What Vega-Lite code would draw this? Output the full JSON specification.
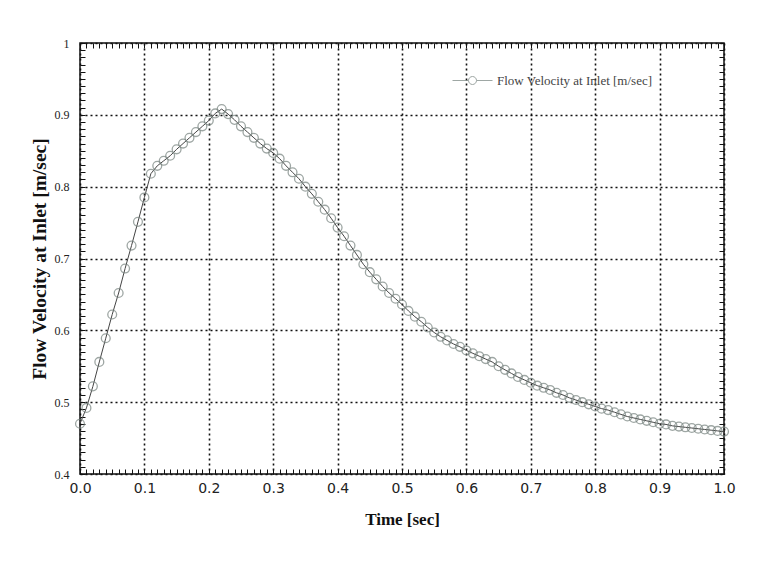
{
  "$schema": "https://vega.github.io/schema/vega-lite/v6.json",
  "width": 644,
  "height": 431,
  "autosize": {"type": "none"},
  "padding": {"left": 80, "top": 43, "right": 58, "bottom": 110},
  "background": "white",
  "config": {"view": {"stroke": "#111", "strokeWidth": 1.5}},
  "data": {"values": [
    {"t":0.00,"v":0.470},{"t":0.01,"v":0.492},{"t":0.02,"v":0.522},{"t":0.03,"v":0.556},{"t":0.04,"v":0.589},
    {"t":0.05,"v":0.622},{"t":0.06,"v":0.652},{"t":0.07,"v":0.686},{"t":0.08,"v":0.718},{"t":0.09,"v":0.751},
    {"t":0.10,"v":0.785},{"t":0.11,"v":0.818},{"t":0.12,"v":0.829},{"t":0.13,"v":0.836},{"t":0.14,"v":0.843},
    {"t":0.15,"v":0.852},{"t":0.16,"v":0.860},{"t":0.17,"v":0.868},{"t":0.18,"v":0.876},{"t":0.19,"v":0.884},
    {"t":0.20,"v":0.892},{"t":0.21,"v":0.902},{"t":0.22,"v":0.908},{"t":0.23,"v":0.901},{"t":0.24,"v":0.893},
    {"t":0.25,"v":0.884},{"t":0.26,"v":0.876},{"t":0.27,"v":0.868},{"t":0.28,"v":0.860},{"t":0.29,"v":0.853},
    {"t":0.30,"v":0.847},{"t":0.31,"v":0.839},{"t":0.32,"v":0.829},{"t":0.33,"v":0.820},{"t":0.34,"v":0.811},
    {"t":0.35,"v":0.800},{"t":0.36,"v":0.790},{"t":0.37,"v":0.779},{"t":0.38,"v":0.768},{"t":0.39,"v":0.756},
    {"t":0.40,"v":0.743},{"t":0.41,"v":0.731},{"t":0.42,"v":0.718},{"t":0.43,"v":0.705},{"t":0.44,"v":0.692},
    {"t":0.45,"v":0.681},{"t":0.46,"v":0.671},{"t":0.47,"v":0.661},{"t":0.48,"v":0.652},{"t":0.49,"v":0.644},
    {"t":0.50,"v":0.636},{"t":0.51,"v":0.627},{"t":0.52,"v":0.619},{"t":0.53,"v":0.612},{"t":0.54,"v":0.604},
    {"t":0.55,"v":0.597},{"t":0.56,"v":0.591},{"t":0.57,"v":0.586},{"t":0.58,"v":0.581},{"t":0.59,"v":0.577},
    {"t":0.60,"v":0.572},{"t":0.61,"v":0.568},{"t":0.62,"v":0.564},{"t":0.63,"v":0.560},{"t":0.64,"v":0.556},
    {"t":0.65,"v":0.550},{"t":0.66,"v":0.545},{"t":0.67,"v":0.540},{"t":0.68,"v":0.535},{"t":0.69,"v":0.531},
    {"t":0.70,"v":0.527},{"t":0.71,"v":0.523},{"t":0.72,"v":0.520},{"t":0.73,"v":0.517},{"t":0.74,"v":0.513},
    {"t":0.75,"v":0.510},{"t":0.76,"v":0.506},{"t":0.77,"v":0.503},{"t":0.78,"v":0.500},{"t":0.79,"v":0.497},
    {"t":0.80,"v":0.494},{"t":0.81,"v":0.491},{"t":0.82,"v":0.489},{"t":0.83,"v":0.486},{"t":0.84,"v":0.483},
    {"t":0.85,"v":0.480},{"t":0.86,"v":0.478},{"t":0.87,"v":0.476},{"t":0.88,"v":0.474},{"t":0.89,"v":0.472},
    {"t":0.90,"v":0.470},{"t":0.91,"v":0.469},{"t":0.92,"v":0.467},{"t":0.93,"v":0.466},{"t":0.94,"v":0.465},
    {"t":0.95,"v":0.464},{"t":0.96,"v":0.463},{"t":0.97,"v":0.462},{"t":0.98,"v":0.461},{"t":0.99,"v":0.460},
    {"t":1.00,"v":0.459}
  ]},
  "layer": [
    {
      "mark": {"type": "line", "color": "#444", "strokeWidth": 1},
      "encoding": {
        "x": {
          "field": "t", "type": "quantitative",
          "scale": {"domain": [0, 1], "nice": false, "zero": false},
          "axis": {
            "orient": "bottom",
            "values": [0,0.01,0.02,0.03,0.04,0.05,0.06,0.07,0.08,0.09,0.1,0.11,0.12,0.13,0.14,0.15,0.16,0.17,0.18,0.19,0.2,0.21,0.22,0.23,0.24,0.25,0.26,0.27,0.28,0.29,0.3,0.31,0.32,0.33,0.34,0.35,0.36,0.37,0.38,0.39,0.4,0.41,0.42,0.43,0.44,0.45,0.46,0.47,0.48,0.49,0.5,0.51,0.52,0.53,0.54,0.55,0.56,0.57,0.58,0.59,0.6,0.61,0.62,0.63,0.64,0.65,0.66,0.67,0.68,0.69,0.7,0.71,0.72,0.73,0.74,0.75,0.76,0.77,0.78,0.79,0.8,0.81,0.82,0.83,0.84,0.85,0.86,0.87,0.88,0.89,0.9,0.91,0.92,0.93,0.94,0.95,0.96,0.97,0.98,0.99,1],
            "labelExpr": "abs(datum.value*10 - round(datum.value*10)) < 0.001 ? format(datum.value, '.1f') : ''",
            "labelOverlap": false,
            "labelFlush": false,
            "labelFont": "DejaVu Sans", "labelFontSize": 14, "labelColor": "#222",
            "labelPadding": 12,
            "tickSize": -5, "tickColor": "#111", "tickWidth": 1,
            "domain": false,
            "grid": true,
            "gridColor": "#111", "gridWidth": 1.6, "gridDash": [2, 3],
            "gridOpacity": {"condition": {"test": "abs(datum.value*10 - round(datum.value*10)) < 0.001", "value": 1}, "value": 0},
            "title": "Time [sec]",
            "titleFont": "Liberation Serif", "titleFontSize": 17, "titleFontWeight": "bold", "titleColor": "#111",
            "titlePadding": 16
          }
        },
        "y": {
          "field": "v", "type": "quantitative",
          "scale": {"domain": [0.4, 1], "nice": false, "zero": false},
          "axis": {
            "orient": "left",
            "values": [0.4,0.41,0.42,0.43,0.44,0.45,0.46,0.47,0.48,0.49,0.5,0.51,0.52,0.53,0.54,0.55,0.56,0.57,0.58,0.59,0.6,0.61,0.62,0.63,0.64,0.65,0.66,0.67,0.68,0.69,0.7,0.71,0.72,0.73,0.74,0.75,0.76,0.77,0.78,0.79,0.8,0.81,0.82,0.83,0.84,0.85,0.86,0.87,0.88,0.89,0.9,0.91,0.92,0.93,0.94,0.95,0.96,0.97,0.98,0.99,1],
            "labelExpr": "abs(datum.value*10 - round(datum.value*10)) < 0.001 ? (datum.value > 0.999 ? '1' : format(datum.value, '.1f')) : ''",
            "labelOverlap": false,
            "labelFlush": false,
            "labelFont": "Liberation Serif", "labelFontSize": 12, "labelColor": "#222",
            "labelPadding": 16,
            "tickSize": -5, "tickColor": "#111", "tickWidth": 1,
            "domain": false,
            "grid": true,
            "gridColor": "#111", "gridWidth": 1.6, "gridDash": [2, 3],
            "gridOpacity": {"condition": {"test": "abs(datum.value*10 - round(datum.value*10)) < 0.001", "value": 1}, "value": 0},
            "title": "Flow Velocity at Inlet [m/sec]",
            "titleFont": "Liberation Serif", "titleFontSize": 19.5, "titleFontWeight": "bold", "titleColor": "#111",
            "titlePadding": 5
          }
        }
      }
    },
    {
      "mark": {"type": "point", "filled": false, "strokeWidth": 1.3, "size": 78},
      "encoding": {
        "x": {
          "field": "t", "type": "quantitative",
          "axis": {
            "orient": "top",
            "values": [0,0.01,0.02,0.03,0.04,0.05,0.06,0.07,0.08,0.09,0.1,0.11,0.12,0.13,0.14,0.15,0.16,0.17,0.18,0.19,0.2,0.21,0.22,0.23,0.24,0.25,0.26,0.27,0.28,0.29,0.3,0.31,0.32,0.33,0.34,0.35,0.36,0.37,0.38,0.39,0.4,0.41,0.42,0.43,0.44,0.45,0.46,0.47,0.48,0.49,0.5,0.51,0.52,0.53,0.54,0.55,0.56,0.57,0.58,0.59,0.6,0.61,0.62,0.63,0.64,0.65,0.66,0.67,0.68,0.69,0.7,0.71,0.72,0.73,0.74,0.75,0.76,0.77,0.78,0.79,0.8,0.81,0.82,0.83,0.84,0.85,0.86,0.87,0.88,0.89,0.9,0.91,0.92,0.93,0.94,0.95,0.96,0.97,0.98,0.99,1],
            "labels": false, "domain": false, "grid": false,
            "tickSize": -5, "tickColor": "#111", "tickWidth": 1,
            "title": null
          }
        },
        "y": {
          "field": "v", "type": "quantitative",
          "axis": {
            "orient": "right",
            "values": [0.4,0.41,0.42,0.43,0.44,0.45,0.46,0.47,0.48,0.49,0.5,0.51,0.52,0.53,0.54,0.55,0.56,0.57,0.58,0.59,0.6,0.61,0.62,0.63,0.64,0.65,0.66,0.67,0.68,0.69,0.7,0.71,0.72,0.73,0.74,0.75,0.76,0.77,0.78,0.79,0.8,0.81,0.82,0.83,0.84,0.85,0.86,0.87,0.88,0.89,0.9,0.91,0.92,0.93,0.94,0.95,0.96,0.97,0.98,0.99,1],
            "labels": false, "domain": false, "grid": false,
            "tickSize": -5, "tickColor": "#111", "tickWidth": 1,
            "title": null
          }
        },
        "color": {
          "datum": "Flow Velocity at Inlet [m/sec]",
          "scale": {"range": ["#76827e"]},
          "legend": {
            "title": null,
            "orient": "none",
            "legendX": 372,
            "legendY": 17,
            "padding": 0,
            "symbolType": "M-1,0L-0.2,0M0.2,0L1,0M-0.2,0A0.2,0.2,0,1,1,0.2,0A0.2,0.2,0,1,1,-0.2,0",
            "symbolSize": 1600,
            "symbolStrokeColor": "#555",
            "symbolFillColor": "transparent",
            "symbolStrokeWidth": 1,
            "labelFont": "Liberation Serif",
            "labelFontSize": 13,
            "labelColor": "#444",
            "labelOffset": 4,
            "labelLimit": 300
          }
        }
      }
    }
  ],
  "resolve": {"axis": {"x": "independent", "y": "independent"}}
}
